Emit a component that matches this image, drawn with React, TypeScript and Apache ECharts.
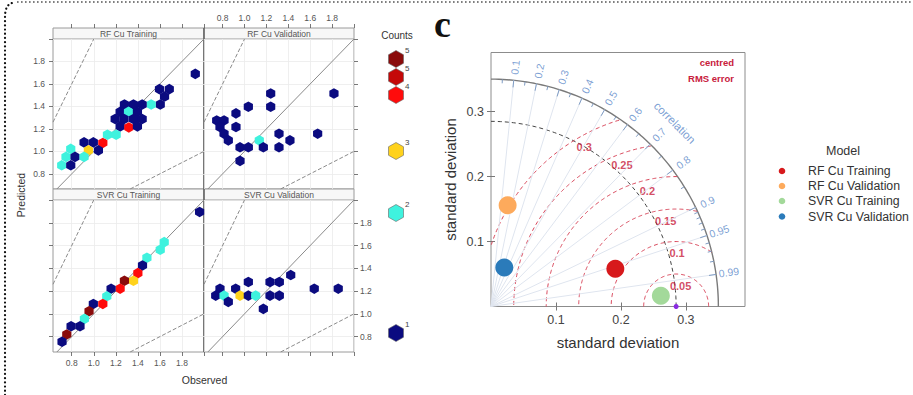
import React, { useEffect, useRef } from 'react';
import * as echarts from 'echarts';

// ---------------- Hexbin panels (bin centres) ----------------
const panelTitles = ['RF Cu Training', 'RF Cu Validation', 'SVR Cu Training', 'SVR Cu Validation'];

const rfTrainObs = [1.921, 1.596, 1.685, 1.642, 1.603, 1.521, 1.439, 1.36, 1.278, 1.239, 1.315, 1.396, 1.194, 1.275, 1.36, 1.439, 1.239, 1.318, 1.396, 1.124, 1.203, 0.912, 0.996, 1.082, 0.951, 1.042, 0.791, 0.748, 0.83, 0.912, 0.709, 0.791];
const rfTrainPred = [1.69, 1.554, 1.554, 1.488, 1.417, 1.417, 1.417, 1.417, 1.417, 1.352, 1.352, 1.352, 1.288, 1.288, 1.288, 1.288, 1.222, 1.213, 1.222, 1.148, 1.148, 1.08, 1.08, 1.075, 1.009, 1.009, 1.022, 0.951, 0.951, 0.951, 0.876, 0.876];
const rfTrainCount = [1, 1, 1, 1, 1, 2, 1, 1, 1, 1, 2, 1, 1, 1, 1, 1, 1, 4, 1, 2, 2, 1, 1, 4, 3, 1, 2, 2, 1, 2, 2, 1];

const rfValObs = [1.817, 1.239, 1.239, 1.035, 0.922, 0.746, 0.813, 0.776, 0.922, 0.813, 0.852, 1.315, 1.668, 1.415, 1.135, 0.959, 1.035, 1.172, 1.315, 0.959];
const rfValPred = [1.515, 1.515, 1.397, 1.397, 1.338, 1.275, 1.275, 1.217, 1.217, 1.157, 1.098, 1.157, 1.157, 1.098, 1.098, 1.036, 1.036, 1.036, 1.036, 0.915];
const rfValCount = [1, 1, 1, 1, 1, 1, 1, 1, 1, 1, 1, 1, 1, 1, 2, 1, 1, 1, 1, 1];

const svrTrainObs = [1.96, 1.639, 1.603, 1.482, 1.442, 1.4, 1.36, 1.278, 1.239, 1.157, 1.118, 1.082, 0.996, 0.957, 0.915, 0.875, 0.794, 0.755, 0.712];
const svrTrainPred = [1.895, 1.63, 1.563, 1.493, 1.425, 1.358, 1.291, 1.291, 1.221, 1.221, 1.154, 1.087, 1.087, 1.023, 0.956, 0.891, 0.891, 0.819, 0.755];
const svrTrainCount = [1, 2, 2, 2, 1, 4, 3, 5, 4, 1, 2, 4, 1, 5, 2, 1, 1, 5, 1];

const svrValObs = [1.422, 1.233, 1.318, 1.035, 0.776, 0.919, 1.637, 1.856, 0.737, 0.813, 0.959, 1.035, 1.102, 1.233, 1.318, 0.852, 1.172];
const svrValPred = [1.341, 1.28, 1.28, 1.28, 1.221, 1.221, 1.221, 1.221, 1.16, 1.16, 1.16, 1.16, 1.16, 1.16, 1.16, 1.105, 1.044];
const svrValCount = [1, 1, 1, 1, 1, 1, 1, 1, 1, 2, 3, 1, 2, 1, 1, 1, 1];

const hexTicks = [0.8, 1.0, 1.2, 1.4, 1.6, 1.8, 2.0];
const hexTickLabels = [0.8, 1.0, 1.2, 1.4, 1.6, 1.8];
const countLegendLabels = ['5', '5', '4', '3', '2', '1'];
const countLegendColors = ['#8a0b0b', '#c40808', '#ff0b0b', '#ffd21c', '#3ff2de', '#0b0b80'];
const countColors: Record<number, string> = { 1: '#0b0b80', 2: '#3ff2de', 3: '#ffd21c', 4: '#ff0b0b', 5: '#8a0b0b' };

// ---------------- Taylor diagram ----------------
const models = ['RF Cu Training', 'RF Cu Validation', 'SVR Cu Training', 'SVR Cu Validation'];
const modelSd = [0.2, 0.158, 0.262, 0.0634];
const modelCor = [0.957, 0.162, 0.998, 0.323];
const modelColors = ['#d7191c', '#fdaa5c', '#a3d99a', '#2b7bba'];
const refSd = 0.285;
const maxSd = 0.35;
const sdTicks = [0.1, 0.2, 0.3];
const corTicks = [0.1, 0.2, 0.3, 0.4, 0.5, 0.6, 0.7, 0.8, 0.9, 0.95, 0.99];
const corMinorTicks = [0.05, 0.15, 0.25, 0.35, 0.45, 0.55, 0.65, 0.75, 0.85, 0.91, 0.92, 0.93, 0.94, 0.96, 0.97, 0.98];
const rmsLevels = [0.05, 0.1, 0.15, 0.2, 0.25, 0.3];

// ---------------- layout ----------------
const FONT = '"Liberation Sans", Arial, Helvetica, sans-serif';
const HEX = 'path://M0,-1L0.866,-0.5L0.866,0.5L0,1L-0.866,0.5L-0.866,-0.5Z';
const X_MIN = 0.63, X_MAX = 2.0, Y_MIN = 0.665, Y_MAX = 2.0;
const hexGrids = [
  { left: 53, top: 39, width: 151, height: 150 },
  { left: 204, top: 39, width: 150, height: 150 },
  { left: 53, top: 200, width: 151, height: 152 },
  { left: 204, top: 200, width: 150, height: 152 },
];
const T_MAX = 0.391;
const taylorGrid = { left: 491, top: 52.5, width: 254, height: 254 };
const rmsLabelAngle = [78, 89, 97, 104, 111, 120];
const corLabelR = 0.37;

function buildOption() {
  const panels = [
    { obs: rfTrainObs, pred: rfTrainPred, count: rfTrainCount, x: 0, y: 0 },
    { obs: rfValObs, pred: rfValPred, count: rfValCount, x: 3, y: 1 },
    { obs: svrTrainObs, pred: svrTrainPred, count: svrTrainCount, x: 4, y: 2 },
    { obs: svrValObs, pred: svrValPred, count: svrValCount, x: 5, y: 3 },
  ];

  const tickStyle = { color: '#555', width: 0.8 };
  const hx = (gridIndex: number, position: string, ticks: boolean, labels: boolean, split: boolean, offset = 0) => ({
    type: 'value', gridIndex, position, offset, min: X_MIN, max: X_MAX,
    axisLine: { show: false },
    axisTick: { show: ticks, customValues: hexTicks, length: 4, lineStyle: tickStyle },
    axisLabel: { show: labels, customValues: hexTickLabels, fontSize: 8.5, color: '#555', fontFamily: FONT, margin: 6, formatter: (v: number) => v.toFixed(1) },
    splitLine: { show: split, lineStyle: { color: '#ebebeb', width: 0.8 } },
  });
  const hy = (gridIndex: number, position: string, ticks: boolean, labels: boolean, split: boolean) => ({
    type: 'value', gridIndex, position, min: Y_MIN, max: Y_MAX,
    axisLine: { show: false },
    axisTick: { show: ticks, customValues: hexTicks, length: 4, lineStyle: tickStyle },
    axisLabel: { show: labels, customValues: hexTickLabels, fontSize: 8.5, color: '#555', fontFamily: FONT, margin: position === 'left' ? 8 : 6, formatter: (v: number) => v.toFixed(1) },
    splitLine: { show: split, lineStyle: { color: '#ebebeb', width: 0.8 } },
  });
  const tAxisCommon = (position: string, labels: boolean) => ({
    type: 'value', gridIndex: 4, position, min: 0, max: T_MAX,
    axisLine: { show: false },
    axisTick: { show: true, customValues: position === 'top' ? [0, ...sdTicks] : sdTicks, length: 4, lineStyle: { color: '#777', width: 1 } },
    axisLabel: { show: labels, customValues: sdTicks, fontSize: 12.5, color: '#444', fontFamily: FONT, margin: 7, formatter: (v: number) => v.toFixed(1) },
    splitLine: { show: false },
  });

  const series: any[] = [];
  panels.forEach((p, i) => {
    const common = { xAxisIndex: p.x, yAxisIndex: p.y, silent: true };
    series.push({ ...common, type: 'line', symbol: 'none', z: 2, data: [[Y_MIN, Y_MIN], [X_MAX, X_MAX]], lineStyle: { color: '#8a8a8a', width: 1 } });
    series.push({ ...common, type: 'line', symbol: 'none', z: 2, data: [[X_MIN, 2 * X_MIN], [Y_MAX / 2, Y_MAX]], lineStyle: { color: '#8a8a8a', width: 1, type: [4, 2] } });
    series.push({ ...common, type: 'line', symbol: 'none', z: 2, data: [[2 * Y_MIN, Y_MIN], [X_MAX, X_MAX / 2]], lineStyle: { color: '#8a8a8a', width: 1, type: [4, 2] } });
    series.push({
      ...common, type: 'scatter', name: panelTitles[i], z: 3, symbol: HEX, symbolSize: [9.2, 10.6],
      data: p.obs.map((x, k) => [x, p.pred[k], p.count[k]]),
      itemStyle: { color: (prm: any) => countColors[prm.value[2]], opacity: 1 },
    });
  });

  // Taylor geometry
  const tc = { xAxisIndex: 6, yAxisIndex: 4, silent: true };
  const arc = (r: number) => {
    const pts: number[][] = [];
    for (let a = 0; a <= 90; a += 1) { const t = (a * Math.PI) / 180; pts.push([r * Math.cos(t), r * Math.sin(t)]); }
    return pts;
  };
  const rmsArc = (rho: number) => {
    const pts: number[][] = [];
    for (let a = 0; a <= 180; a += 0.5) {
      const t = (a * Math.PI) / 180;
      const x = refSd + rho * Math.cos(t), y = rho * Math.sin(t);
      if (x >= 0 && x * x + y * y <= maxSd * maxSd) pts.push([x, y]);
    }
    return pts;
  };
  const radial = (c: number, r1: number, r2: number) => {
    const s = Math.sqrt(1 - c * c);
    return [{ coord: [r1 * c, r1 * s] }, { coord: [r2 * c, r2 * s] }];
  };

  series.push({
    ...tc, type: 'line', symbol: 'none', z: 1, data: [[0, 0], [0, 0]], lineStyle: { opacity: 0 },
    markLine: { silent: true, symbol: ['none', 'none'], label: { show: false }, lineStyle: { color: '#dfe5ef', width: 1, type: 'solid' }, data: corTicks.map((c) => radial(c, 0, maxSd)) },
  });
  series.push({
    ...tc, type: 'line', symbol: 'none', z: 3, data: arc(maxSd), lineStyle: { color: '#7a7a7a', width: 1.4 },
    markLine: {
      silent: true, symbol: ['none', 'none'], label: { show: false }, lineStyle: { color: '#7f9cc4', width: 1, type: 'solid' },
      data: [...corTicks.map((c) => radial(c, maxSd - 0.011, maxSd)), ...corMinorTicks.map((c) => radial(c, maxSd - 0.006, maxSd))],
    },
  });
  series.push({ ...tc, type: 'line', symbol: 'none', z: 3, data: arc(refSd), lineStyle: { color: '#444', width: 1, type: [4, 3] } });
  rmsLevels.forEach((rho) => {
    series.push({ ...tc, type: 'line', symbol: 'none', z: 3, data: rmsArc(rho), lineStyle: { color: '#d9465a', width: 1, type: [4, 3] } });
  });
  series.push({
    ...tc, type: 'scatter', z: 4, symbolSize: 1, itemStyle: { color: 'rgba(0,0,0,0)' },
    label: { show: true, position: 'inside', formatter: '{b}', color: '#5a87c8', fontSize: 10.5, fontFamily: FONT },
    data: [
      ...corTicks.map((c) => {
        const t = Math.acos(c);
        return { name: String(c), value: [corLabelR * c, corLabelR * Math.sin(t)], label: { rotate: (t * 180) / Math.PI } };
      }),
      { name: 'correlation', value: [0.4 * Math.SQRT1_2, 0.4 * Math.SQRT1_2], label: { rotate: -45, fontSize: 11.5 } },
    ],
  });
  series.push({
    ...tc, type: 'scatter', z: 4, symbolSize: 1, itemStyle: { color: 'rgba(0,0,0,0)' },
    label: { show: true, position: 'inside', formatter: '{b}', color: '#c8203c', fontSize: 11, fontWeight: 'bold', fontFamily: FONT },
    data: rmsLevels.map((rho, i) => {
      const t = (rmsLabelAngle[i] * Math.PI) / 180;
      const d = rho - 0.017;
      return { name: String(rho), value: [refSd + d * Math.cos(t), d * Math.sin(t)] };
    }),
  });
  series.push({ ...tc, type: 'scatter', z: 5, symbolSize: 5, itemStyle: { color: '#8a2be2', opacity: 1 }, data: [[refSd, 0]] });
  models.forEach((m, i) => {
    const sd = modelSd[i], c = modelCor[i];
    series.push({ ...tc, type: 'scatter', name: m, z: 6, symbolSize: 18, itemStyle: { color: modelColors[i], opacity: 1 }, data: [[sd * c, sd * Math.sqrt(1 - c * c)]] });
  });

  // graphics
  const g: any[] = [];
  g.push({ type: 'polyline', silent: true, shape: { points: [[5, 395], [5, 14], [6.5, 7.5], [9.5, 3.8], [15, 2]] }, style: { stroke: '#111', lineWidth: 2.2, lineDash: [0.1, 4.1], lineCap: 'round', fill: 'none' } });
  g.push({ type: 'line', silent: true, shape: { x1: 17, y1: 2, x2: 913, y2: 2 }, style: { stroke: '#555', lineWidth: 1.6, lineDash: [1.6, 2.4] } });
  const strips = [
    { x: 53, y: 28, w: 151, t: panelTitles[0] },
    { x: 204, y: 28, w: 150, t: panelTitles[1] },
    { x: 53, y: 189, w: 151, t: panelTitles[2] },
    { x: 204, y: 189, w: 150, t: panelTitles[3] },
  ];
  strips.forEach((s) => {
    g.push({ type: 'rect', silent: true, shape: { x: s.x, y: s.y, width: s.w, height: 11 }, style: { fill: '#f7f7f7', stroke: '#9a9a9a', lineWidth: 1 } });
    g.push({ type: 'text', silent: true, x: s.x + s.w / 2, y: s.y + 5.8, style: { text: s.t, fill: '#555', font: `8.5px ${FONT}`, align: 'center', verticalAlign: 'middle' } });
  });
  g.push({ type: 'line', silent: true, shape: { x1: 204, y1: 28, x2: 204, y2: 352 }, style: { stroke: '#555', lineWidth: 1.3 } });
  g.push({ type: 'text', silent: true, x: 21, y: 195, rotation: Math.PI / 2, style: { text: 'Predicted', fill: '#333', font: `10.5px ${FONT}`, align: 'center', verticalAlign: 'middle' } });
  g.push({ type: 'text', silent: true, x: 204.5, y: 380, style: { text: 'Observed', fill: '#333', font: `10.5px ${FONT}`, align: 'center', verticalAlign: 'middle' } });
  g.push({ type: 'text', silent: true, x: 397, y: 35, style: { text: 'Counts', fill: '#333', font: `10px ${FONT}`, align: 'center', verticalAlign: 'middle' } });
  const legY = [59, 77, 95, 151, 213, 333];
  legY.forEach((cy, i) => {
    const cx = 396, w = 7.5, h = 8.5;
    g.push({ type: 'polygon', silent: true, shape: { points: [[cx, cy - h], [cx + w, cy - h / 2], [cx + w, cy + h / 2], [cx, cy + h], [cx - w, cy + h / 2], [cx - w, cy - h / 2]] }, style: { fill: countLegendColors[i], stroke: '#666', lineWidth: 0.6 } });
    g.push({ type: 'text', silent: true, x: 405, y: cy - 9, style: { text: countLegendLabels[i], fill: '#444', font: `8px ${FONT}`, align: 'left', verticalAlign: 'middle' } });
  });
  g.push({ type: 'text', silent: true, x: 434, y: 24, style: { text: 'c', fill: '#111', font: `bold 38px "Liberation Serif", "Times New Roman", serif`, align: 'left', verticalAlign: 'middle' } });
  g.push({ type: 'text', silent: true, x: 734, y: 62, style: { text: 'centred', fill: '#c8203c', font: `bold 9.5px ${FONT}`, align: 'right', verticalAlign: 'middle' } });
  g.push({ type: 'text', silent: true, x: 734, y: 78, style: { text: 'RMS error', fill: '#c8203c', font: `bold 9.5px ${FONT}`, align: 'right', verticalAlign: 'middle' } });
  g.push({ type: 'text', silent: true, x: 843, y: 151, style: { text: 'Model', fill: '#333', font: `12.5px ${FONT}`, align: 'center', verticalAlign: 'middle' } });
  const mLegY = [171, 186, 201, 216.5];
  models.forEach((m, i) => {
    g.push({ type: 'circle', silent: true, shape: { cx: 782, cy: mLegY[i], r: 3.3 }, style: { fill: modelColors[i] } });
    g.push({ type: 'text', silent: true, x: 808, y: mLegY[i], style: { text: m, fill: '#333', font: `12.3px ${FONT}`, align: 'left', verticalAlign: 'middle' } });
  });

  return {
    animation: false,
    backgroundColor: '#ffffff',
    textStyle: { fontFamily: FONT },
    grid: [
      ...hexGrids.map((gr) => ({ ...gr, show: true, borderColor: '#9a9a9a', borderWidth: 1, containLabel: false, outerBoundsMode: 'none' })),
      { ...taylorGrid, show: true, borderColor: '#8c8c8c', borderWidth: 1, containLabel: false, outerBoundsMode: 'none' },
    ],
    xAxis: [
      hx(0, 'bottom', false, false, true),
      hx(0, 'top', true, false, false, 11),
      hx(1, 'top', true, true, false, 11),
      hx(1, 'bottom', false, false, true),
      hx(2, 'bottom', true, true, true),
      hx(3, 'bottom', true, false, true),
      { ...tAxisCommon('bottom', true), name: 'standard deviation', nameLocation: 'middle', nameGap: 28, nameTextStyle: { fontSize: 15, color: '#333', fontFamily: FONT } },
      tAxisCommon('top', false),
    ],
    yAxis: [
      hy(0, 'left', true, true, true),
      hy(1, 'right', true, false, true),
      hy(2, 'left', true, false, true),
      hy(3, 'right', true, true, true),
      { ...tAxisCommon('left', true), name: 'standard deviation', nameLocation: 'middle', nameGap: 33, nameTextStyle: { fontSize: 15, color: '#333', fontFamily: FONT } },
      tAxisCommon('right', false),
    ],
    series,
    graphic: g,
  };
}

export default function App() {
  const ref = useRef<HTMLDivElement>(null);
  useEffect(() => {
    if (!ref.current) return;
    const chart = echarts.init(ref.current, null, { renderer: 'svg' });
    chart.setOption(buildOption() as any);
    return () => chart.dispose();
  }, []);
  return <div ref={ref} style={{ position: 'fixed', left: 0, top: 0, width: 913, height: 395, background: '#fff' }} />;
}
